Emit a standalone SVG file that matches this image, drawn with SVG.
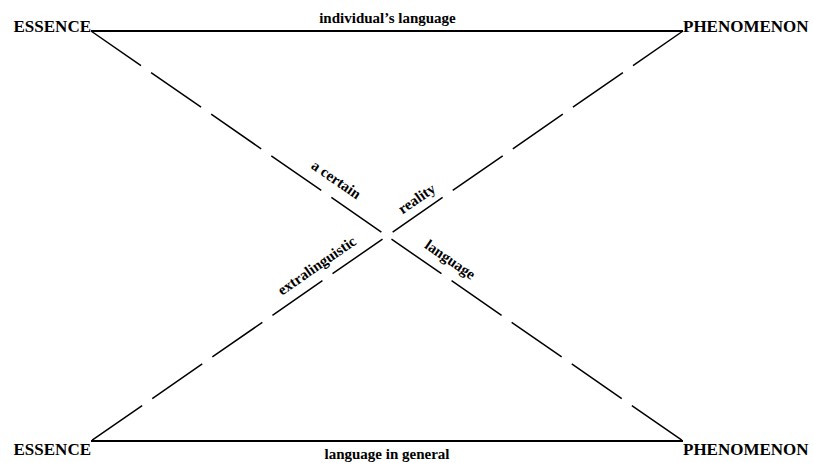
<svg xmlns="http://www.w3.org/2000/svg" width="813" height="463" viewBox="0 0 813 463">
  <style>
    text { font-family: "Liberation Serif", "Times New Roman", serif; font-weight: bold; fill: #000; }
    .corner { font-size: 17px; }
    .edge { font-size: 15px; text-anchor: middle; }
    .diag { font-size: 15px; text-anchor: middle; }
    .solid { stroke: #000; stroke-width: 2; fill: none; }
    .dashed { stroke: #000; stroke-width: 1.5; fill: none; stroke-dasharray: 60.8 12.3; }
  </style>

  <!-- connectors: two solid horizontals and two dashed diagonals -->
  <g id="connectors">
    <line class="solid" x1="91" y1="31" x2="683" y2="31"/>
    <line class="solid" x1="91" y1="441" x2="683" y2="441"/>
    <line class="dashed" x1="91" y1="31" x2="683" y2="441"/>
    <line class="dashed" x1="683" y1="31" x2="91" y2="441"/>
  </g>

  <!-- corner nodes -->
  <g id="essence-top"><text class="corner" x="91" y="32" text-anchor="end">ESSENCE</text></g>
  <g id="phenomenon-top"><text class="corner" x="683" y="32">PHENOMENON</text></g>
  <g id="essence-bottom"><text class="corner" x="91" y="455" text-anchor="end">ESSENCE</text></g>
  <g id="phenomenon-bottom"><text class="corner" x="683" y="455">PHENOMENON</text></g>

  <!-- edge labels -->
  <g id="labels">
    <text class="edge" x="387.5" y="23">individual’s language</text>
    <text class="edge" x="387" y="459">language in general</text>
    <text class="diag" transform="translate(333.4,183.7) rotate(34.7)">a certain</text>
    <text class="diag" transform="translate(447.4,263.7) rotate(34.7)">language</text>
    <text class="diag" transform="translate(419.6,202.7) rotate(-34.7)">reality</text>
    <text class="diag" transform="translate(319.6,269.7) rotate(-34.7)">extralinguistic</text>
  </g>
</svg>
